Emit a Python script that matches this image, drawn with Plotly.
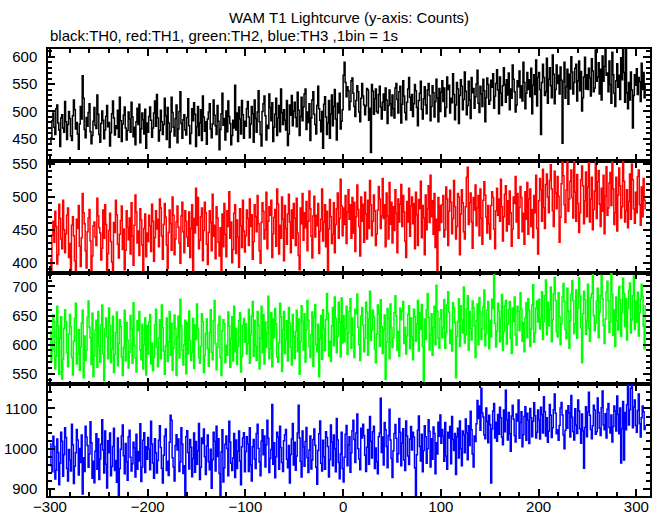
import plotly.graph_objects as go

# ---------------- data (counts per 1 s bin, t = -300 .. 309 s) ----------------
TIME_START = -300
BIN_SEC = 1

th0 = [
    440, 452, 483, 497, 471, 458, 505, 512, 479, 466,
    436, 488, 494, 470, 462, 518, 481, 449, 476, 500,
    487, 455, 447, 492, 521, 503, 468, 480, 459, 431,
    477, 509, 486, 565, 524, 467, 452, 489, 473, 498,
    514, 463, 441, 456, 482, 507, 475, 469, 530, 495,
    458, 444, 478, 501, 484, 450, 466, 491, 511, 472,
    480, 437, 461, 496, 519, 488, 457, 474, 469, 502,
    453, 526, 483, 445, 477, 493, 508, 470, 448, 465,
    499, 486, 462, 517, 490, 454, 471, 439, 481, 506,
    476, 513, 443, 468, 497, 485, 459, 504, 433, 479,
    462, 491, 508, 484, 453, 470, 497, 519, 473, 531,
    488, 446, 465, 502, 481, 458, 476, 524, 492, 449,
    507, 479, 434, 463, 526, 498, 471, 455, 487, 512,
    443, 468, 500, 536, 478, 451, 485, 494, 466, 457,
    489, 523, 474, 441, 460, 505, 483, 516, 495, 436,
    472, 509, 456, 479, 503, 447, 528, 490, 464, 481,
    440, 486, 499, 514, 468, 452, 477, 521, 493, 474,
    458, 511, 482, 430, 467, 496, 533, 475, 487, 448,
    501, 463, 519, 491, 478, 439, 456, 484, 470, 548,
    466, 497, 445, 508, 486, 459, 520, 494, 451, 482,
    473, 505, 518, 490, 452, 477, 509, 496, 444, 521,
    487, 462, 499, 538, 481, 458, 437, 500, 514, 528,
    492, 448, 475, 469, 532, 507, 483, 516, 445, 471,
    495, 524, 456, 488, 511, 463, 541, 498, 476, 503,
    484, 466, 520, 438, 459, 512, 493, 529, 474, 501,
    517, 489, 472, 535, 502, 456, 491, 526, 483, 508,
    532, 541, 467, 499, 480, 514, 447, 488, 521, 536,
    495, 476, 459, 511, 546, 505, 484, 463, 500, 433,
    513, 527, 490, 458, 479, 520, 451, 496, 530, 474,
    509, 540, 486, 448, 515, 497, 533, 468, 482, 503,
    566, 590, 553, 527, 545, 538, 503, 518, 556, 561,
    533, 509, 491, 520, 547, 536, 499, 481, 524, 551,
    528, 512, 494, 510, 542, 539, 484, 506, 425, 549,
    537, 495, 523, 541, 500, 497, 531, 546, 508, 486,
    517, 532, 502, 543, 521, 478, 511, 539, 514, 492,
    530, 505, 488, 543, 551, 522, 497, 536, 546, 479,
    513, 556, 528, 498, 485, 517, 541, 562, 526, 502,
    531, 491, 514, 549, 538, 507, 474, 520, 533, 555,
    504, 486, 523, 545, 512, 496, 539, 551, 529, 483,
    509, 547, 534, 490, 518, 559, 525, 481, 542, 500,
    535, 556, 518, 543, 491, 507, 563, 540, 548, 497,
    524, 516, 569, 531, 485, 512, 553, 541, 478, 529,
    558, 546, 503, 522, 572, 537, 494, 511, 555, 521,
    487, 562, 534, 542, 506, 527, 550, 575, 515, 498,
    546, 532, 509, 559, 538, 481, 525, 561, 549, 513,
    520, 557, 544, 569, 506, 528, 551, 576, 539, 496,
    563, 533, 511, 547, 580, 549, 517, 558, 530, 570,
    503, 541, 524, 585, 559, 536, 499, 512, 556, 545,
    574, 525, 547, 519, 590, 553, 505, 533, 571, 540,
    558, 527, 579, 496, 548, 567, 531, 594, 510, 562,
    571, 540, 458, 553, 586, 562, 529, 536, 597, 515,
    559, 580, 547, 525, 603, 568, 514, 540, 585, 551,
    566, 532, 581, 557, 442, 554, 590, 524, 545, 577,
    513, 568, 541, 600, 572, 532, 553, 579, 586, 519,
    556, 592, 538, 573, 501, 525, 563, 599, 541, 567,
    540, 579, 561, 528, 596, 574, 536, 543, 612, 555,
    563, 589, 532, 577, 521, 601, 555, 582, 614, 566,
    570, 536, 592, 549, 515, 608, 567, 533, 509, 556,
    587, 544, 566, 522, 598, 558, 620, 571, 517, 616,
    534, 505, 553, 521, 572, 539, 470, 529, 567, 548,
    578, 531, 562, 554, 518, 588, 540, 571, 525, 549,
]

th1 = [
    405, 386, 442, 463, 431, 478, 455, 398, 412, 489,
    467, 436, 421, 495, 450, 415, 444, 472, 483, 408,
    429, 388, 457, 470, 441, 403, 383, 466, 452, 487,
    425, 394, 438, 505, 476, 459, 418, 392, 447, 468,
    481, 433, 381, 410, 456, 462, 439, 426, 498, 471,
    453, 445, 404, 422, 480, 437, 488, 458, 387, 414,
    449, 475, 432, 401, 384, 461, 446, 495, 473, 428,
    407, 443, 464, 486, 420, 451, 389, 419, 479, 454,
    435, 468, 413, 491, 440, 396, 457, 503, 477, 430,
    448, 411, 482, 465, 427, 386, 452, 474, 409, 445,
    432, 472, 456, 417, 489, 463, 402, 438, 479, 451,
    466, 424, 497, 483, 441, 405, 458, 490, 469, 427,
    391, 446, 480, 459, 419, 500, 472, 412, 436, 462,
    486, 454, 430, 399, 471, 492, 447, 415, 479, 463,
    439, 425, 477, 408, 452, 488, 388, 467, 445, 513,
    457, 499, 421, 434, 470, 483, 403, 449, 492, 476,
    428, 397, 446, 479, 461, 418, 504, 440, 457, 406,
    485, 468, 431, 410, 453, 384, 474, 424, 490, 443,
    409, 479, 455, 508, 437, 462, 400, 420, 475, 488,
    414, 465, 439, 393, 482, 456, 423, 495, 448, 416,
    441, 480, 467, 426, 497, 455, 473, 405, 432, 488,
    470, 447, 502, 459, 418, 399, 461, 491, 478, 436,
    450, 507, 421, 463, 485, 472, 495, 408, 444, 469,
    481, 425, 512, 489, 413, 457, 437, 500, 466, 403,
    487, 452, 428, 474, 504, 462, 415, 480, 437, 490,
    468, 426, 498, 445, 411, 389, 483, 459, 505, 434,
    476, 453, 493, 418, 463, 509, 482, 440, 407, 471,
    501, 439, 472, 456, 490, 414, 448, 466, 512, 433,
    462, 488, 424, 478, 386, 451, 496, 470, 429, 443,
    491, 415, 458, 482, 506, 437, 467, 527, 486, 441,
    483, 458, 502, 429, 477, 511, 466, 488, 437, 499,
    445, 492, 417, 470, 518, 481, 455, 410, 500, 463,
    489, 431, 507, 474, 436, 495, 452, 525, 488, 441,
    463, 503, 479, 426, 444, 480, 516, 497, 452, 471,
    528, 467, 488, 424, 506, 471, 436, 522, 458, 492,
    430, 485, 449, 511, 475, 415, 497, 462, 489, 519,
    455, 502, 477, 433, 408, 493, 462, 513, 440, 486,
    500, 459, 490, 421, 507, 473, 426, 496, 482, 524,
    438, 487, 468, 412, 503, 450, 482, 517, 461, 533,
    470, 494, 443, 505, 423, 466, 380, 499, 449, 487,
    461, 488, 502, 439, 450, 515, 497, 426, 478, 510,
    492, 444, 467, 525, 485, 436, 455, 505, 500, 412,
    474, 511, 491, 447, 436, 485, 530, 545, 458, 491,
    506, 462, 422, 499, 480, 518, 456, 483, 502, 441,
    512, 468, 428, 495, 523, 503, 469, 445, 487, 459,
    436, 487, 508, 499, 451, 421, 479, 513, 472, 497,
    463, 527, 485, 433, 470, 504, 517, 448, 494, 458,
    509, 476, 425, 451, 500, 490, 531, 462, 505, 437,
    484, 516, 499, 447, 475, 428, 508, 466, 522, 443,
    497, 512, 455, 481, 438, 502, 476, 533, 452, 413,
    494, 528, 511, 463, 542, 484, 452, 519, 535, 500,
    476, 525, 549, 512, 479, 455, 539, 506, 482, 531,
    501, 431, 469, 520, 553, 532, 488, 461, 510, 555,
    478, 497, 524, 541, 499, 468, 555, 507, 463, 534,
    490, 446, 476, 526, 547, 517, 459, 494, 538, 470,
    515, 552, 462, 497, 530, 450, 481, 509, 555, 467,
    523, 540, 489, 455, 513, 478, 533, 444, 501, 546,
    472, 483, 521, 537, 487, 555, 512, 458, 476, 530,
    448, 503, 544, 517, 468, 485, 555, 524, 462, 479,
    511, 453, 493, 535, 466, 550, 526, 482, 460, 507,
    476, 531, 541, 488, 457, 515, 470, 528, 495, 481,
]

th2 = [
    623, 572, 589, 651, 640, 558, 580, 666, 632, 549,
    611, 648, 541, 575, 628, 660, 639, 586, 562, 618,
    652, 631, 578, 548, 606, 645, 671, 567, 584, 626,
    556, 596, 637, 659, 543, 615, 573, 590, 647, 675,
    630, 612, 566, 654, 545, 581, 625, 642, 561, 657,
    598, 570, 634, 668, 585, 538, 627, 646, 613, 576,
    663, 633, 569, 592, 649, 552, 583, 621, 656, 564,
    602, 643, 631, 579, 547, 595, 659, 572, 638, 608,
    560, 587, 650, 627, 568, 672, 599, 577, 553, 641,
    624, 657, 591, 574, 635, 558, 600, 646, 548, 633,
    584, 639, 652, 567, 603, 555, 578, 634, 661, 596,
    562, 611, 643, 576, 668, 629, 589, 549, 598, 646,
    571, 605, 657, 582, 637, 556, 594, 651, 628, 547,
    613, 649, 577, 678, 633, 590, 565, 600, 642, 550,
    638, 584, 658, 607, 573, 586, 645, 559, 634, 609,
    670, 627, 578, 568, 597, 653, 640, 552, 581, 619,
    644, 593, 563, 621, 660, 587, 574, 641, 676, 602,
    557, 595, 634, 649, 578, 547, 624, 643, 636, 569,
    599, 582, 656, 632, 561, 610, 648, 572, 666, 588,
    628, 566, 597, 641, 655, 553, 580, 633, 645, 604,
    636, 584, 602, 661, 568, 617, 649, 674, 580, 642,
    598, 573, 657, 633, 558, 611, 666, 586, 652, 567,
    639, 595, 620, 683, 576, 593, 655, 562, 644, 612,
    662, 636, 579, 570, 603, 671, 648, 554, 625, 657,
    585, 609, 641, 572, 664, 637, 596, 565, 652, 614,
    576, 623, 659, 588, 644, 549, 605, 667, 640, 591,
    653, 570, 626, 676, 642, 597, 578, 617, 656, 563,
    647, 669, 600, 588, 635, 545, 610, 650, 575, 660,
    627, 590, 643, 688, 654, 580, 606, 571, 632, 664,
    598, 682, 645, 586, 614, 673, 639, 579, 680, 603,
    650, 605, 628, 666, 583, 620, 657, 679, 594, 646,
    616, 578, 661, 653, 687, 630, 600, 573, 649, 664,
    634, 588, 611, 673, 656, 582, 644, 692, 607, 625,
    659, 647, 592, 569, 618, 668, 653, 597, 677, 631,
    585, 626, 651, 540, 604, 662, 645, 576, 670, 629,
    595, 612, 655, 684, 649, 590, 623, 580, 663, 643,
    658, 674, 602, 630, 584, 615, 652, 667, 593, 646,
    614, 574, 661, 648, 606, 635, 676, 589, 655, 626,
    669, 597, 535, 644, 609, 660, 688, 647, 591, 617,
    653, 582, 629, 666, 600, 702, 657, 611, 594, 645,
    660, 612, 629, 677, 594, 621, 668, 691, 656, 602,
    625, 589, 672, 663, 638, 543, 614, 640, 679, 597,
    667, 643, 620, 699, 603, 617, 661, 684, 591, 657,
    628, 608, 675, 664, 632, 578, 641, 670, 600, 681,
    656, 609, 627, 665, 694, 598, 619, 659, 674, 593,
    642, 613, 678, 662, 720, 637, 596, 623, 671, 658,
    605, 645, 686, 590, 622, 667, 676, 601, 635, 660,
    674, 611, 585, 663, 640, 682, 616, 599, 666, 657,
    624, 689, 661, 606, 638, 588, 646, 672, 612, 679,
    659, 597, 627, 668, 703, 604, 620, 663, 675, 639,
    678, 627, 645, 691, 609, 640, 684, 711, 617, 673,
    632, 660, 699, 605, 643, 687, 716, 676, 622, 613,
    689, 648, 600, 636, 682, 705, 674, 626, 610, 697,
    658, 594, 641, 686, 710, 676, 619, 635, 694, 611,
    663, 715, 683, 629, 569, 653, 692, 677, 618, 640,
    704, 628, 606, 680, 688, 720, 650, 624, 637, 675,
    697, 612, 656, 684, 719, 679, 633, 602, 644, 691,
    709, 676, 621, 639, 722, 686, 616, 660, 597, 682,
    641, 625, 700, 677, 614, 655, 714, 688, 631, 679,
    608, 662, 693, 706, 620, 643, 684, 718, 626, 675,
    639, 690, 615, 655, 678, 704, 683, 632, 593, 668,
]

th3 = [
    1012, 958, 943, 1031, 1006, 925, 947, 1024, 991, 911,
    964, 1041, 1019, 932, 985, 1052, 1028, 951, 920, 998,
    972, 945, 1061, 1010, 914, 957, 990, 1048, 1022, 935,
    1001, 966, 1034, 888, 978, 944, 1056, 1029, 1008, 954,
    987, 1067, 1015, 927, 969, 916, 994, 1037, 949, 1025,
    924, 975, 1011, 1072, 997, 940, 1044, 962, 903, 1020,
    990, 1039, 933, 956, 1006, 1051, 946, 971, 917, 1027,
    881, 951, 999, 1032, 1059, 983, 938, 1013, 968, 922,
    1030, 1046, 979, 945, 963, 1016, 1002, 930, 1036, 949,
    993, 970, 1062, 919, 955, 1021, 1040, 941, 1005, 974,
    1028, 999, 948, 1068, 1012, 965, 927, 1025, 990, 940,
    971, 1021, 1057, 1003, 952, 915, 984, 1032, 1049, 946,
    969, 934, 1016, 1083, 1071, 978, 955, 920, 1008, 1035,
    997, 1024, 944, 967, 1052, 1012, 939, 958, 885, 1030,
    1045, 991, 950, 1023, 1004, 931, 976, 1039, 942, 1018,
    962, 995, 1063, 924, 954, 1027, 1013, 1049, 980, 936,
    1007, 1034, 968, 948, 999, 902, 973, 1041, 1019, 945,
    1056, 981, 1025, 939, 884, 992, 1047, 918, 953, 1011,
    1032, 1001, 933, 1068, 1017, 964, 946, 977, 1038, 929,
    1022, 951, 994, 1044, 970, 911, 1005, 1027, 1040, 943,
    993, 1030, 1012, 944, 1052, 960, 920, 1005, 1023, 975,
    951, 1038, 1061, 1001, 967, 933, 1019, 1047, 985, 1032,
    955, 1010, 1071, 1026, 941, 976, 998, 1110, 962, 1015,
    928, 980, 1041, 1029, 949, 1056, 1003, 966, 944, 1020,
    1035, 1048, 974, 953, 1008, 915, 986, 1024, 1063, 960,
    1016, 947, 982, 1039, 1108, 1027, 969, 930, 1044, 1005,
    957, 1018, 1053, 978, 941, 997, 1032, 950, 972, 1023,
    1049, 1009, 954, 912, 996, 1037, 1069, 964, 945, 1021,
    980, 949, 1042, 1028, 1006, 930, 973, 1059, 1017, 958,
    1034, 1000, 943, 1075, 1022, 966, 926, 987, 1041, 951,
    918, 979, 1036, 1058, 958, 1009, 1030, 942, 990, 1045,
    1071, 1023, 966, 1039, 1086, 1000, 975, 948, 1051, 1027,
    1061, 1033, 984, 944, 1004, 1048, 962, 1080, 1019, 977,
    1042, 1056, 951, 1002, 968, 938, 1030, 1039, 1125, 991,
    1029, 960, 1065, 1047, 1006, 953, 1033, 1098, 1022, 976,
    929, 995, 1038, 1060, 1026, 967, 988, 1075, 1041, 958,
    1014, 1050, 972, 946, 1069, 1032, 982, 961, 1024, 1055,
    997, 1041, 1029, 953, 882, 985, 1046, 1081, 1006, 970,
    1036, 943, 996, 1057, 1030, 964, 1000, 1072, 1043, 955,
    1025, 974, 1054, 1038, 938, 1015, 987, 1066, 1031, 1084,
    1014, 1048, 1032, 969, 1065, 982, 949, 1041, 1027, 1055,
    963, 1080, 1023, 996, 1038, 936, 1030, 1051, 977, 1069,
    1001, 958, 1044, 1035, 990, 1074, 1040, 973, 1057, 1008,
    1093, 1047, 987, 955, 1032, 1018, 1062, 1120, 1075, 1106,
    1046, 1150, 1089, 1079, 1034, 1025, 1101, 1068, 1015, 1083,
    1060, 915, 1049, 1094, 1112, 1027, 1066, 1019, 1085, 1036,
    1103, 1077, 1029, 1010, 1096, 1042, 1145, 1072, 1022, 1090,
    1037, 994, 1081, 1108, 1073, 1033, 1017, 1086, 1069, 1121,
    1026, 1065, 1092, 1005, 1035, 1080, 1104, 1021, 1088, 1071,
    1013, 1100, 1077, 1030, 1068, 1114, 1082, 1027, 1041, 1096,
    1072, 1024, 1103, 1085, 1039, 1129, 1092, 1032, 1077, 1016,
    1044, 1110, 1083, 1028, 1052, 1097, 1136, 1088, 1037, 1047,
    1021, 1058, 1101, 1115, 1084, 1034, 1000, 1046, 1095, 1051,
    1107, 1089, 1029, 1132, 1078, 1043, 1022, 1099, 1059, 1038,
    1121, 1094, 1050, 1014, 1086, 1045, 952, 1053, 1104, 1030,
    1091, 1140, 1083, 1048, 1025, 1057, 1108, 1096, 1036, 1042,
    1126, 1090, 1051, 1033, 1102, 1143, 1059, 1047, 1087, 1027,
    1098, 1112, 1053, 1039, 1084, 1017, 1055, 1106, 1094, 1044,
    1131, 1085, 1037, 1101, 965, 1050, 1117, 972, 1090, 1047,
    1109, 1158, 1059, 1097, 1150, 1162, 1052, 1103, 1121, 1058,
    1041, 1095, 1136, 1062, 1029, 1077, 1106, 1092, 1048, 1059,
]

series = [th0, th1, th2, th3]
colors = ["#000000", "#ff0000", "#00ff00", "#0000ff"]
y_ranges = [[410, 614], [385, 555], [532, 724], [883, 1160]]
y_major = [50, 50, 50, 100]
y_minor = [10, 10, 10, 20]
x_range = [-302, 314]

title_text = "WAM T1 Lightcurve (y-axis: Counts)"
subtitle_text = "black:TH0, red:TH1, green:TH2, blue:TH3 ,1bin = 1s"

FONT = "Liberation Sans, Arial, Helvetica, sans-serif"

fig = go.Figure()
n_rows = len(series)
for i, (vals, col) in enumerate(zip(series, colors)):
    t = [TIME_START + k * BIN_SEC for k in range(len(vals))]
    xa = "x" if i == 0 else f"x{i+1}"
    ya = "y" if i == 0 else f"y{i+1}"
    fig.add_trace(go.Scatter(x=t, y=vals, mode="lines",
                             line=dict(color=col, width=1.5, shape="hv"),
                             xaxis=xa, yaxis=ya, showlegend=False,
                             hoverinfo="skip"))

common_axis = dict(showline=True, linecolor="black", linewidth=1.5,
                   mirror="allticks", ticks="inside", showgrid=False,
                   zeroline=False, tickcolor="black", automargin=False,
                   tickfont=dict(family=FONT, size=15, color="black"))

layout = dict(
    width=661, height=515,
    margin=dict(l=48, r=11, t=49, b=19, autoexpand=False),
    paper_bgcolor="white", plot_bgcolor="white",
    showlegend=False,
)
for i in range(n_rows):
    top = 1 - i / n_rows
    bot = 1 - (i + 1) / n_rows
    xkey = "xaxis" if i == 0 else f"xaxis{i+1}"
    ykey = "yaxis" if i == 0 else f"yaxis{i+1}"
    ya = "y" if i == 0 else f"y{i+1}"
    xa = "x" if i == 0 else f"x{i+1}"
    layout[xkey] = dict(common_axis, range=x_range, anchor=ya,
                        domain=[0, 1], tick0=0, dtick=100,
                        ticklen=7, tickwidth=2,
                        minor=dict(ticks="inside", dtick=20, tick0=0,
                                   ticklen=4, tickwidth=1.5, tickcolor="black",
                                   showgrid=False),
                        showticklabels=(i == n_rows - 1),
                        ticklabelstandoff=-4)
    layout[ykey] = dict(common_axis, range=y_ranges[i], anchor=xa,
                        domain=[bot, top], tick0=0, dtick=y_major[i],
                        ticklen=7, tickwidth=2,
                        minor=dict(ticks="inside", dtick=y_minor[i], tick0=0,
                                   ticklen=4, tickwidth=1.5, tickcolor="black",
                                   showgrid=False),
                        ticklabelstandoff=6)

fig.update_layout(**layout)

fig.add_annotation(text=title_text, xref="paper", yref="paper",
                   x=0.5, y=1, yshift=32, xanchor="center", yanchor="middle",
                   showarrow=False,
                   font=dict(family=FONT, size=15, color="black"))
fig.add_annotation(text=subtitle_text, xref="paper", yref="paper",
                   x=0, y=1, yshift=14, xanchor="left", yanchor="middle",
                   showarrow=False,
                   font=dict(family=FONT, size=15, color="black"))

# remove the browser's default 8px body margin so the figure fills the window
fig.write_html("out.html", config={"displayModeBar": False},
               post_script="document.body.style.margin='0';")
